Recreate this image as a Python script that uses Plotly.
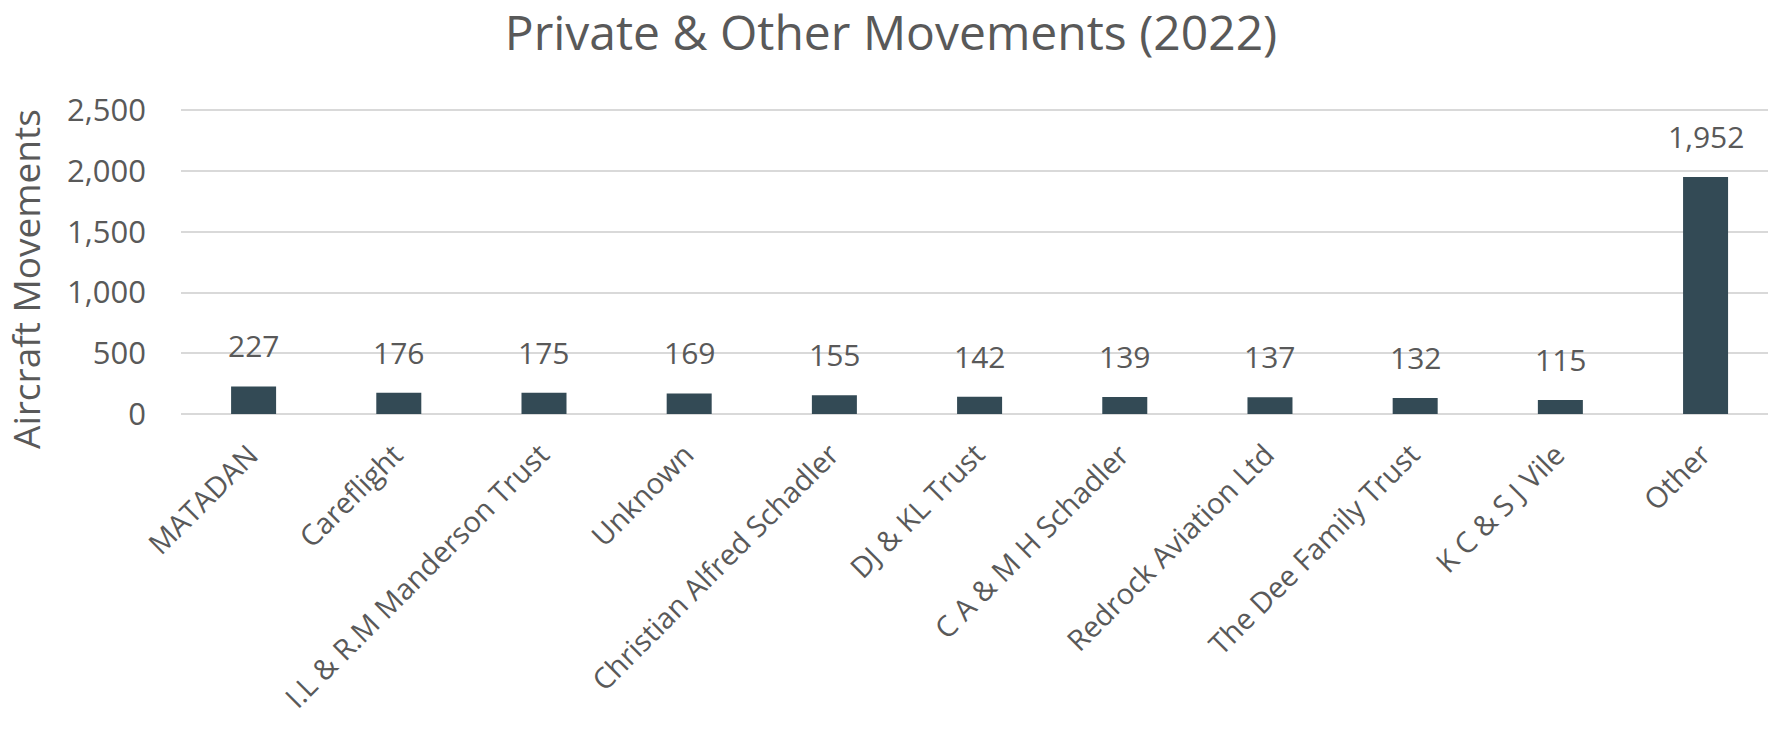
import plotly.graph_objects as go

categories = ["MATADAN", "Careflight", "I.L & R.M Manderson Trust", "Unknown",
              "Christian Alfred Schadler", "DJ & KL Trust", "C A & M H Schadler",
              "Redrock Aviation Ltd", "The Dee Family Trust", "K C & S J Vile", "Other"]
movements = [227, 176, 175, 169, 155, 142, 139, 137, 132, 115, 1952]
y_ticks = [0, 500, 1000, 1500, 2000, 2500]

W, H = 1768, 737
L, T, B, R = 181, 108, 323, 0
PW, PH = W - L - R, H - T - B
TXT = "#595959"
FONT = "Open Sans"

fig = go.Figure()
fig.add_trace(go.Bar(x=categories, y=movements, marker=dict(color="#334a55", line=dict(width=0)),
                     hoverinfo="x+y"))

# value labels
for c, v in zip(categories, movements):
    fig.add_annotation(x=c, y=v, text=f"{v:,}", showarrow=False, yanchor="bottom",
                       yshift=18, font=dict(family=FONT, size=30, color=TXT))

# rotated category labels
for c in categories:
    fig.add_annotation(x=c, y=0, text=c, showarrow=False, textangle=-45,
                       xanchor="right", yanchor="top", xshift=15, yshift=-18,
                       font=dict(family=FONT, size=29, color=TXT))

# y-axis title
fig.add_annotation(xref="paper", yref="paper", x=(25 - L) / PW, y=(H - B - 279) / PH,
                   text="Aircraft Movements", textangle=-90, showarrow=False,
                   xanchor="center", yanchor="middle",
                   font=dict(family=FONT, size=37, color=TXT))

fig.update_layout(
    width=W, height=H,
    margin=dict(l=L, r=R, t=T, b=B, pad=0, autoexpand=False),
    paper_bgcolor="white", plot_bgcolor="white",
    bargap=0.69,
    showlegend=False,
    title=dict(text="Private & Other Movements (2022)", x=891 / W, xanchor="center",
               yref="container", y=1 - 33 / H, yanchor="middle",
               font=dict(family=FONT, size=48, color=TXT)),
    xaxis=dict(range=[-0.5, 10.43], showticklabels=False, showgrid=False, showline=False,
               zeroline=False, ticks="", automargin=False),
    yaxis=dict(range=[0, 2520], tickvals=y_ticks, tickformat=",", showgrid=True,
               gridcolor="#d9d9d9", gridwidth=2, zeroline=True, zerolinecolor="#d9d9d9",
               zerolinewidth=2, showline=False, ticks="", ticklabelstandoff=34, automargin=False,
               tickfont=dict(family=FONT, size=31, color=TXT)),
)

fig.write_html("out.html", config={"displayModeBar": False},
               post_script="document.body.style.margin='0';")
